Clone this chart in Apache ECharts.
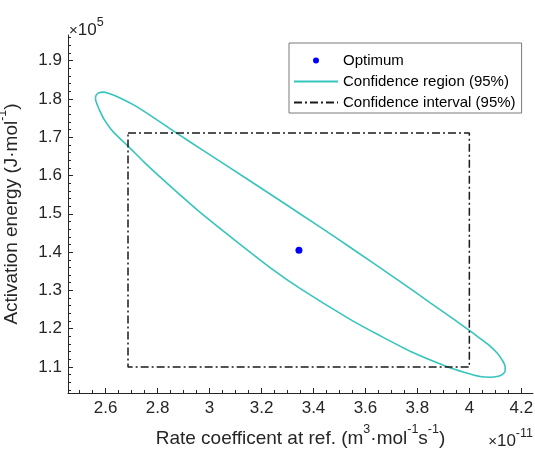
<!DOCTYPE html>
<html>
<head>
<meta charset="utf-8">
<script src="https://cdn.jsdelivr.net/npm/echarts@6/dist/echarts.min.js"></script>
<style>html,body{margin:0;padding:0;background:#fff}#c{width:535px;height:452px}</style>
</head>
<body>
<div id="c"></div>
<script>
// ---- data (x in units of 1e-11, y in units of 1e5) ----
const regionX = [2.5606,2.5645,2.5741,2.5896,2.6127,2.6514,2.7093,2.7672,2.8676,2.9718,3.1533,3.2884,3.4158,3.5394,3.7324,3.8483,3.9448,4.0027,4.0413,4.0799,4.1069,4.1263,4.1378,
  4.1378,4.1263,4.1069,4.0799,4.0413,3.9757,3.9178,3.7826,3.6552,3.5394,3.3463,3.2382,3.0992,2.9602,2.8830,2.8058,2.7479,2.6861,2.6514,2.6205,2.5934,2.5761,2.5683,2.5625,2.5606];
const regionY = [1.8034,1.8112,1.8162,1.8178,1.8144,1.8039,1.7838,1.7590,1.7133,1.6669,1.5870,1.5269,1.4696,1.4134,1.3237,1.2681,1.2222,1.1940,1.1744,1.1546,1.1363,1.1180,1.1010,
  1.0893,1.0801,1.0749,1.0731,1.0749,1.0867,1.0997,1.1376,1.1820,1.2251,1.3060,1.3569,1.4300,1.5057,1.5514,1.5984,1.6350,1.6768,1.6990,1.7211,1.7473,1.7708,1.7838,1.7943,1.8034];
const optimumX = [3.344];
const optimumY = [1.405];
const intervalX = [2.686, 4.0, 4.0, 2.686, 2.686];
const intervalY = [1.711, 1.711, 1.100, 1.100, 1.711];
const xTicks = [2.6, 2.8, 3.0, 3.2, 3.4, 3.6, 3.8, 4.0, 4.2];
const xTickLabels = ['2.6','2.8','3','3.2','3.4','3.6','3.8','4','4.2'];
const yTicks = [1.1, 1.2, 1.3, 1.4, 1.5, 1.6, 1.7, 1.8, 1.9];
const yTickLabels = ['1.1','1.2','1.3','1.4','1.5','1.6','1.7','1.8','1.9'];
const seriesNames = ['Optimum', 'Confidence region (95%)', 'Confidence interval (95%)'];

const xMin = 2.455, xMax = 4.245, yMin = 1.032, yMax = 1.967;
const xMinor = []; for (let i = 50; i <= 84; i++) xMinor.push(+(i * 0.05).toFixed(2));
const yMinor = []; for (let i = 52; i <= 98; i++) yMinor.push(+(i * 0.02).toFixed(2));

const FONT = 'Liberation Sans';
const TXT = '#262626';
const zip = (a, b) => a.map((v, i) => [v, b[i]]);

const chart = echarts.init(document.getElementById('c'), null, {renderer: 'canvas'});
const richTitle = {
  n: {fontFamily: FONT, fontSize: 19, color: TXT, lineHeight: 30},
  s: {fontFamily: FONT, fontSize: 12.5, color: TXT, lineHeight: 12, padding: [0, 0, 18, 0]}
};
const baseAxisLine = {show: true, lineStyle: {color: TXT, width: 1}};
chart.setOption({
  animation: false,
  textStyle: {fontFamily: FONT},
  grid: {left: 68, right: 2, top: 35, bottom: 59, containLabel: false, outerBoundsMode: 'none'},
  legend: {
    orient: 'vertical', left: 289, top: 43,
    data: [
      {name: seriesNames[0]},
      {name: seriesNames[1], itemStyle: {opacity: 0}},
      {name: seriesNames[2], itemStyle: {opacity: 0}}
    ],
    itemWidth: 44, itemHeight: 6, itemGap: 4,
    padding: [9, 6, 2, 4],
    backgroundColor: '#fff', borderColor: '#7a7a7a', borderWidth: 1,
    textStyle: {fontFamily: FONT, fontSize: 15, color: '#000', lineHeight: 17}
  },
  xAxis: [{
    type: 'value', min: xMin, max: xMax, position: 'bottom',
    axisLine: baseAxisLine, splitLine: {show: false},
    axisTick: {show: true, inside: true, length: 5, customValues: xTicks, lineStyle: {color: TXT}},
    axisLabel: {customValues: xTicks, margin: 7, fontFamily: FONT, fontSize: 17, color: TXT,
      formatter: v => xTickLabels[xTicks.findIndex(t => Math.abs(t - v) < 1e-9)] ?? ''},
    name: '{n|Rate coefficent at ref. (m}{s|3}{n|·mol}{s|-1}{n|s}{s|-1}{n|)}',
    nameLocation: 'middle', nameGap: 31,
    nameTextStyle: {rich: richTitle}
  }, {
    type: 'value', min: xMin, max: xMax, position: 'bottom',
    axisLine: {show: false}, splitLine: {show: false}, axisLabel: {show: false},
    axisTick: {show: true, inside: true, length: 3, customValues: xMinor, lineStyle: {color: TXT}}
  }],
  yAxis: [{
    type: 'value', min: yMin, max: yMax, position: 'left',
    axisLine: baseAxisLine, splitLine: {show: false},
    axisTick: {show: true, inside: true, length: 5, customValues: yTicks, lineStyle: {color: TXT}},
    axisLabel: {customValues: yTicks, margin: 6, fontFamily: FONT, fontSize: 17, color: TXT,
      formatter: v => yTickLabels[yTicks.findIndex(t => Math.abs(t - v) < 1e-9)] ?? ''},
    name: '{n|Activation energy (J·mol}{s|-1}{n|)}',
    nameLocation: 'middle', nameGap: 27, nameRotate: 90,
    nameTextStyle: {rich: richTitle}
  }, {
    type: 'value', min: yMin, max: yMax, position: 'left',
    axisLine: {show: false}, splitLine: {show: false}, axisLabel: {show: false},
    axisTick: {show: true, inside: true, length: 3, customValues: yMinor, lineStyle: {color: TXT}}
  }],
  series: [{
    name: seriesNames[0], type: 'scatter', data: zip(optimumX, optimumY),
    symbol: 'circle', symbolSize: 7, itemStyle: {color: '#0000ff', opacity: 1},
    emphasis: {disabled: true}, z: 5
  }, {
    name: seriesNames[1], type: 'line', data: zip(regionX, regionY),
    symbol: 'none', smooth: 0.25, lineStyle: {color: '#36c5bc', width: 1.6},
    itemStyle: {color: '#36c5bc'}, z: 3
  }, {
    name: seriesNames[2], type: 'line', data: zip(intervalX, intervalY),
    symbol: 'none', lineStyle: {color: '#1a1a1a', width: 1.5, type: [8, 3, 2, 3]},
    itemStyle: {color: '#1a1a1a'}, z: 4
  }],
  graphic: [{
    type: 'text', left: 69, top: 16,
    style: {text: '{x|×}{n|10}{s|5}', rich: {
      x: {fontFamily: FONT, fontSize: 15, fill: TXT, lineHeight: 28},
      n: {fontFamily: FONT, fontSize: 17, fill: TXT, lineHeight: 28},
      s: {fontFamily: FONT, fontSize: 12.5, fill: TXT, lineHeight: 12, padding: [0, 0, 16, 0]}
    }}
  }, {
    type: 'text', right: 2, top: 427,
    style: {text: '{x|×}{n|10}{s|-11}', rich: {
      x: {fontFamily: FONT, fontSize: 15, fill: TXT, lineHeight: 28},
      n: {fontFamily: FONT, fontSize: 17, fill: TXT, lineHeight: 28},
      s: {fontFamily: FONT, fontSize: 12.5, fill: TXT, lineHeight: 12, padding: [0, 0, 16, 0]}
    }}
  }]
});
</script>
</body>
</html>
